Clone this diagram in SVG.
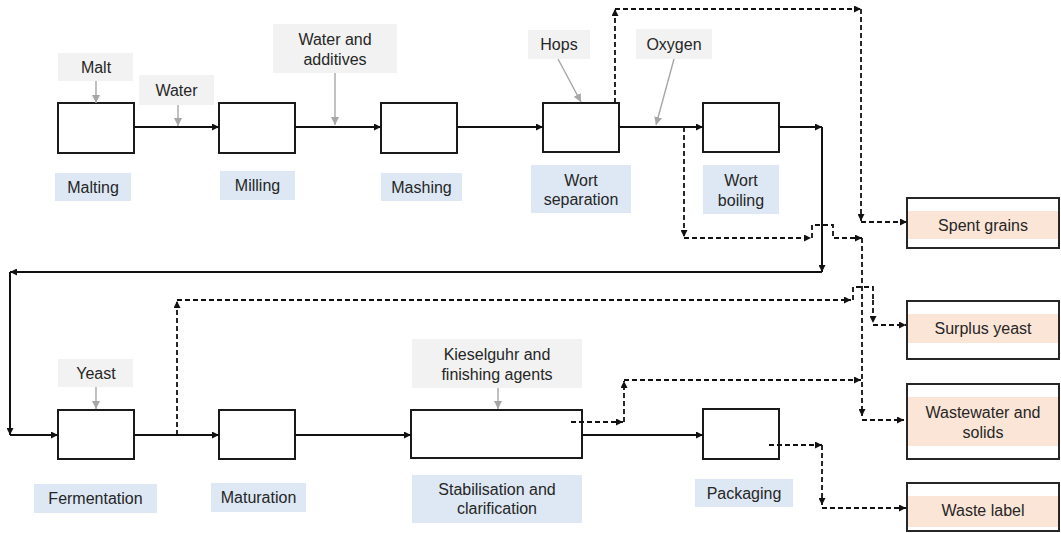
<svg xmlns="http://www.w3.org/2000/svg" width="1061" height="533" viewBox="0 0 1061 533">
<style>
  text { font-family: "Liberation Sans", Arial, sans-serif; font-size: 16px; fill: #262626; text-anchor: middle; }
  .proc { fill: #ffffff; stroke: #1a1a1a; stroke-width: 2; }
  .inp { fill: #f2f2f2; }
  .lab { fill: #dde8f4; }
  .outbox { fill: #ffffff; stroke: #262626; stroke-width: 2; }
  .band { fill: #fbe5d6; }
  .solid { fill: none; stroke: #111111; stroke-width: 2; marker-end: url(#ah); }
  .dash { fill: none; stroke: #111111; stroke-width: 1.8; stroke-dasharray: 5 3; marker-end: url(#ah); }
  .dashn { fill: none; stroke: #111111; stroke-width: 1.8; stroke-dasharray: 5 3; }
  .grey { fill: none; stroke: #a6a6a6; stroke-width: 1.4; marker-end: url(#ahg); }
</style>
<defs>
  <marker id="ah" viewBox="0 0 8 8" refX="8" refY="4" markerWidth="7" markerHeight="7" markerUnits="userSpaceOnUse" orient="auto">
    <path d="M0,0 L8,4 L0,8 z" fill="#111111"/>
  </marker>
  <marker id="ahg" viewBox="0 0 8 8" refX="8" refY="4" markerWidth="8" markerHeight="8" markerUnits="userSpaceOnUse" orient="auto">
    <path d="M0,0 L8,4 L0,8 z" fill="#a6a6a6"/>
  </marker>
</defs>

<!-- Process nodes top row -->
<g id="malting">
  <rect class="proc" x="58" y="103" width="76" height="50"/>
  <rect class="lab" x="55" y="173" width="76" height="28"/>
  <text x="93" y="193">Malting</text>
</g>
<g id="milling">
  <rect class="proc" x="219" y="103" width="76" height="50"/>
  <rect class="lab" x="220" y="171" width="75" height="29"/>
  <text x="257.5" y="191">Milling</text>
</g>
<g id="mashing">
  <rect class="proc" x="381" y="103" width="76" height="50"/>
  <rect class="lab" x="381" y="173" width="81" height="28"/>
  <text x="421.5" y="193">Mashing</text>
</g>
<g id="wort-separation">
  <rect class="proc" x="543" y="103" width="76" height="49"/>
  <rect class="lab" x="531" y="165" width="100" height="48"/>
  <text x="581" y="185.5">Wort</text>
  <text x="581" y="205">separation</text>
</g>
<g id="wort-boiling">
  <rect class="proc" x="703" y="103" width="76" height="49"/>
  <rect class="lab" x="703" y="165" width="76" height="49"/>
  <text x="741" y="185.5">Wort</text>
  <text x="741" y="205.5">boiling</text>
</g>

<!-- Process nodes bottom row -->
<g id="fermentation">
  <rect class="proc" x="58" y="410" width="76" height="49"/>
  <rect class="lab" x="34" y="484" width="123" height="29"/>
  <text x="95.5" y="504">Fermentation</text>
</g>
<g id="maturation">
  <rect class="proc" x="219" y="410" width="76" height="49"/>
  <rect class="lab" x="211" y="483" width="95" height="29"/>
  <text x="258.5" y="503">Maturation</text>
</g>
<g id="stabilisation">
  <rect class="proc" x="411" y="410" width="171" height="48"/>
  <rect class="lab" x="412" y="475" width="170" height="48"/>
  <text x="497" y="494.5">Stabilisation and</text>
  <text x="497" y="514">clarification</text>
</g>
<g id="packaging">
  <rect class="proc" x="703" y="409" width="76" height="50"/>
  <rect class="lab" x="695" y="479" width="98" height="28"/>
  <text x="744" y="498.5">Packaging</text>
</g>

<!-- Inputs -->
<g id="in-malt">
  <rect class="inp" x="58" y="53" width="75" height="28"/>
  <text x="96" y="72.5">Malt</text>
</g>
<g id="in-water">
  <rect class="inp" x="139" y="75" width="75" height="30"/>
  <text x="176.5" y="96">Water</text>
</g>
<g id="in-water-additives">
  <rect class="inp" x="273" y="24" width="124" height="49"/>
  <text x="335" y="44.5">Water and</text>
  <text x="335" y="65">additives</text>
</g>
<g id="in-hops">
  <rect class="inp" x="528" y="30" width="62" height="29"/>
  <text x="559" y="50">Hops</text>
</g>
<g id="in-oxygen">
  <rect class="inp" x="636" y="29" width="76" height="30"/>
  <text x="674" y="49.5">Oxygen</text>
</g>
<g id="in-yeast">
  <rect class="inp" x="58" y="359" width="75" height="28"/>
  <text x="96" y="378.5">Yeast</text>
</g>
<g id="in-kieselguhr">
  <rect class="inp" x="412" y="339" width="170" height="49"/>
  <text x="497" y="359.5">Kieselguhr and</text>
  <text x="497" y="379.5">finishing agents</text>
</g>

<!-- Outputs -->
<g id="out-spent-grains">
  <rect class="outbox" x="907" y="198" width="152" height="50"/>
  <rect class="band" x="908" y="211" width="150" height="28"/>
  <text x="983" y="230.5">Spent grains</text>
</g>
<g id="out-surplus-yeast">
  <rect class="outbox" x="907" y="301" width="152" height="58"/>
  <rect class="band" x="908" y="314" width="150" height="29"/>
  <text x="983" y="333.5">Surplus yeast</text>
</g>
<g id="out-wastewater">
  <rect class="outbox" x="907" y="384" width="152" height="75"/>
  <rect class="band" x="908" y="397" width="150" height="49"/>
  <text x="983" y="417.5">Wastewater and</text>
  <text x="983" y="437.5">solids</text>
</g>
<g id="out-waste-label">
  <rect class="outbox" x="907" y="483" width="152" height="48"/>
  <rect class="band" x="908" y="496" width="150" height="31"/>
  <text x="983" y="515.5">Waste label</text>
</g>

<!-- Connectors -->
<g id="connectors">
  <!-- input arrows -->
  <path class="grey" d="M96,81 L96,103"/>
  <path class="grey" d="M178,105 L178,126"/>
  <path class="grey" d="M335,73 L335,125"/>
  <path class="grey" d="M558,59 L581,102"/>
  <path class="grey" d="M674,59 L656,125"/>
  <path class="grey" d="M96,387 L96,409"/>
  <path class="grey" d="M498,388 L498,409"/>

  <!-- main flow top -->
  <path class="solid" d="M134,127 L219,127"/>
  <path class="solid" d="M295,127 L381,127"/>
  <path class="solid" d="M457,127 L543,127"/>
  <path class="solid" d="M619,127 L703,127"/>
  <path class="solid" d="M779,127 L822,127"/>
  <path class="solid" d="M822,127 L822,272"/>
  <path class="solid" d="M822,272 L10,272"/>
  <path class="solid" d="M10,272 L10,435"/>
  <path class="solid" d="M10,435 L58,435"/>

  <!-- main flow bottom -->
  <path class="solid" d="M134,435 L219,435"/>
  <path class="solid" d="M295,435 L411,435"/>
  <path class="solid" d="M582,435 L703,435"/>

  <!-- spent grains from wort separation -->
  <path class="dash" d="M615,103 L615,9"/>
  <path class="dash" d="M615,9 L861,9"/>
  <path class="dash" d="M861,9 L861,221"/>
  <path class="dash" d="M861,222 L907,222"/>

  <!-- hot trub from wort boiling -->
  <path class="dash" d="M684,127 L684,237"/>
  <path class="dash" d="M684,238 L811,238"/>
  <path class="dash" d="M812,238 L812,225 L833,225 L833,238 L862,238"/>
  <path class="dash" d="M862,238 L862,416"/>
  <path class="dash" d="M862,420 L904,420"/>

  <!-- surplus yeast from fermentation -->
  <path class="dash" d="M177,435 L177,301"/>
  <path class="dash" d="M177,300 L851,300"/>
  <path class="dashn" d="M853,300 L853,287 L873,287 L873,300"/>
  <path class="dash" d="M873,300 L873,323"/>
  <path class="dash" d="M873,325 L906,325"/>

  <!-- stabilisation waste -->
  <path class="dash" d="M571,422 L623,422"/>
  <path class="dash" d="M624,422 L624,381"/>
  <path class="dash" d="M624,380 L861,380"/>

  <!-- packaging waste label -->
  <path class="dash" d="M769,445 L822,445"/>
  <path class="dash" d="M822,445 L822,505"/>
  <path class="dash" d="M822,508 L906,508"/>
</g>
</svg>
